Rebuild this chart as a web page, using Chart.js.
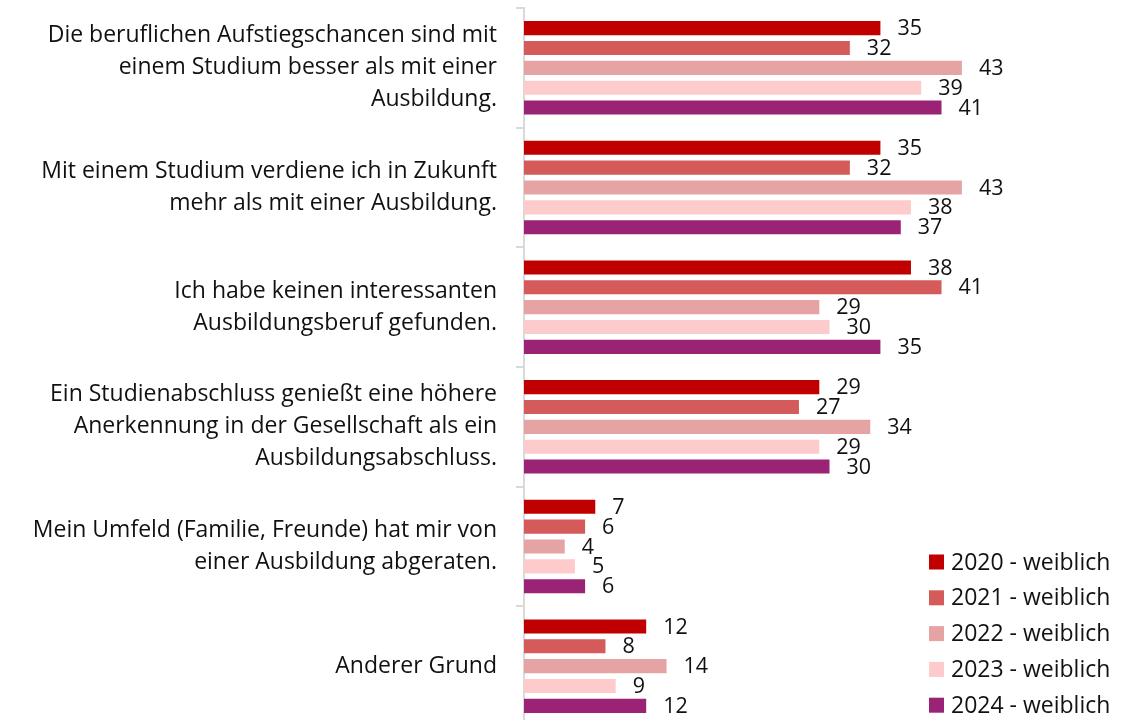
<!DOCTYPE html>
<html>
<head>
<meta charset="utf-8">
<script src="https://cdn.jsdelivr.net/npm/chart.js@4"></script>
<style>
  html, body { margin: 0; padding: 0; background: #fff; overflow: hidden; }
  #wrap { width: 1135px; height: 726px; position: relative; }
</style>
</head>
<body>
<div id="wrap"><canvas id="grafica"></canvas></div>
<script>
// Gründe für ein Studium statt einer Ausbildung (Angaben in %)
const kategorien = [
  ["Die beruflichen Aufstiegschancen sind mit", "einem Studium besser als mit einer", "Ausbildung."],
  ["Mit einem Studium verdiene ich in Zukunft", "mehr als mit einer Ausbildung."],
  ["Ich habe keinen interessanten", "Ausbildungsberuf gefunden."],
  ["Ein Studienabschluss genießt eine höhere", "Anerkennung in der Gesellschaft als ein", "Ausbildungsabschluss."],
  ["Mein Umfeld (Familie, Freunde) hat mir von", "einer Ausbildung abgeraten."],
  "Anderer Grund"
];

const serien = ["2020 - weiblich", "2021 - weiblich", "2022 - weiblich", "2023 - weiblich", "2024 - weiblich"];

const werte2020 = [35, 35, 38, 29, 7, 12];
const werte2021 = [32, 32, 41, 27, 6, 8];
const werte2022 = [43, 43, 29, 34, 4, 14];
const werte2023 = [39, 38, 30, 29, 5, 9];
const werte2024 = [41, 37, 35, 30, 6, 12];

const farben = ['#C00000', '#D55B5B', '#E6A3A3', '#FDCBCB', '#9B2375'];
const schrift = '"Open Sans", "Noto Sans", sans-serif';

// Zahlen rechts neben den Balken
const wertLabels = {
  id: 'wertLabels',
  afterDatasetsDraw(chart) {
    const ctx = chart.ctx;
    ctx.save();
    ctx.font = '21.5px ' + schrift;
    ctx.fillStyle = '#111';
    ctx.textAlign = 'left';
    ctx.textBaseline = 'middle';
    chart.data.datasets.forEach((ds, i) => {
      chart.getDatasetMeta(i).data.forEach((bar, j) => {
        ctx.fillText(ds.data[j], bar.x + 17, bar.y + 1);
      });
    });
    ctx.restore();
  }
};

// Legende unten rechts, über der Grafik
const legendeRechts = {
  id: 'legendeRechts',
  afterDraw(chart) {
    const ctx = chart.ctx;
    ctx.save();
    ctx.font = '23px ' + schrift;
    ctx.textBaseline = 'middle';
    chart.data.datasets.forEach((ds, i) => {
      const y = 562 + i * 35.8;
      ctx.fillStyle = ds.backgroundColor;
      ctx.fillRect(929, y - 7.5, 15, 15);
      ctx.fillStyle = '#111';
      ctx.fillText(ds.label, 951, y + 1);
    });
    ctx.restore();
  }
};

const werte = [werte2020, werte2021, werte2022, werte2023, werte2024];

new Chart(document.getElementById('grafica'), {
  type: 'bar',
  data: {
    labels: kategorien,
    datasets: serien.map((name, i) => ({
      label: name,
      data: werte[i],
      backgroundColor: farben[i],
      borderWidth: 0,
      categoryPercentage: 0.83,
      barPercentage: 0.71
    }))
  },
  options: {
    indexAxis: 'y',
    responsive: true,
    maintainAspectRatio: false,
    animation: false,
    layout: { padding: { top: 8, left: 0, right: 0, bottom: 0 } },
    plugins: {
      legend: { display: false },
      tooltip: { enabled: false }
    },
    scales: {
      x: {
        display: false,
        min: 0,
        max: 60
      },
      y: {
        afterFit(scale) {
          scale.width = 524;
          scale.paddingTop = 0;
          scale.paddingBottom = 0;
        },
        grid: {
          drawOnChartArea: false,
          drawTicks: true,
          tickLength: 8,
          color: '#d9d9d9',
          lineWidth: 2
        },
        border: { color: '#d9d9d9', width: 2 },
        ticks: {
          padding: 19,
          color: '#111',
          font: { family: schrift, size: 23, lineHeight: 1.39 }
        }
      }
    }
  },
  plugins: [wertLabels, legendeRechts]
});
</script>
</body>
</html>
